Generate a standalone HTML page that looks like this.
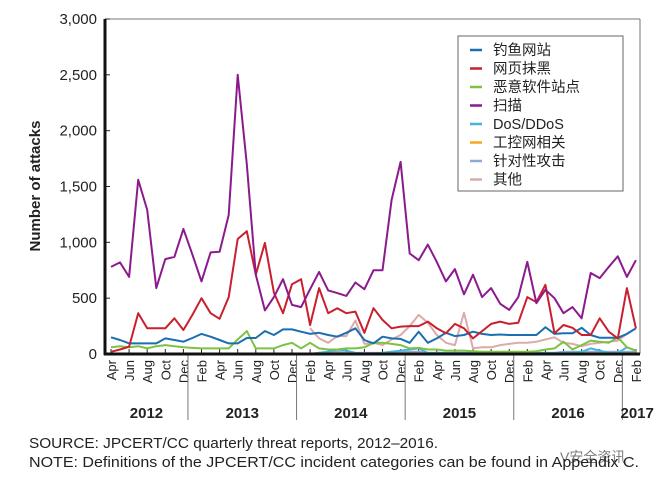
<!DOCTYPE html>
<html><head><meta charset="utf-8">
<style>
body{margin:0;background:#fff;width:662px;height:485px;overflow:hidden;font-family:"Liberation Sans","Noto Sans CJK SC",sans-serif;}
svg text{font-family:"Liberation Sans","Noto Sans CJK SC",sans-serif;fill:#222;}
</style></head>
<body>
<svg id="chart" width="662" height="485" xmlns="http://www.w3.org/2000/svg"></svg>
<script>
const monthLabels=["Apr","Jun","Aug","Oct","Dec","Feb","Apr","Jun","Aug","Oct","Dec","Feb","Apr","Jun","Aug","Oct","Dec","Feb","Apr","Jun","Aug","Oct","Dec","Feb","Apr","Jun","Aug","Oct","Dec","Feb"];
const yearLabels=["2012","2013","2014","2015","2016","2017"];
const yTicks=[0,500,1000,1500,2000,2500,3000];
const phishing=[150,125,95,95,95,95,140,125,110,143,180,155,125,95,95,143,143,205,170,220,220,200,180,190,170,155,190,230,125,95,155,140,135,100,200,100,140,190,160,170,200,180,170,175,170,170,170,170,240,180,185,185,235,170,145,145,145,180,230];
const defacement=[20,40,65,365,230,230,230,320,215,350,500,365,315,510,1030,1100,710,995,550,365,625,670,260,590,365,410,365,380,190,410,305,230,245,250,250,290,230,185,270,230,140,205,270,290,270,280,510,465,620,185,260,235,170,170,320,200,140,590,230];
const malware=[60,70,60,70,50,70,80,70,60,55,50,50,50,50,130,205,50,50,50,80,100,50,100,50,40,40,50,50,60,100,100,90,80,50,55,40,40,30,30,30,25,20,20,20,20,20,20,25,40,50,110,40,80,120,110,100,150,60,30];
const scan=[780,820,690,1560,1290,590,850,870,1120,890,650,910,915,1245,2500,1700,710,390,510,670,440,420,580,735,570,545,520,640,580,750,750,1380,1720,900,840,980,825,650,760,535,710,510,590,450,395,510,825,455,575,500,365,420,320,725,680,780,875,690,840];
const dos=[0,0,0,0,0,0,0,0,0,0,0,0,0,0,0,0,0,0,0,0,0,0,0,10,20,40,30,10,5,5,10,20,30,40,50,10,10,10,10,10,10,10,10,10,10,10,10,10,10,10,10,10,20,50,30,10,10,60,30];
const ics=[0,0,0,0,0,0,0,0,0,0,0,0,0,0,0,0,0,0,0,0,0,0,5,5,5,5,5,5,5,5,5,5,5,5,5,5,5,5,5,5,5,5,5,5,5,5,5,5,5,5,5,5,5,5,5,5,5,5,5];
const targeted=[0,0,0,0,0,0,0,0,0,0,0,0,0,0,0,0,0,0,0,0,0,0,0,10,20,20,10,10,10,10,10,20,20,20,20,10,10,10,10,10,10,10,10,10,10,10,10,10,10,10,20,20,20,20,20,20,20,20,20];
const other=[null,null,null,null,null,null,null,null,null,null,null,null,null,null,null,null,null,null,null,null,null,null,230,140,100,160,160,300,90,100,80,130,170,250,350,280,170,100,80,370,50,60,60,80,90,100,100,110,130,150,100,90,70,90,100,110,120,180,230];
const seriesNames=["钓鱼网站","网页抹黑","恶意软件站点","扫描","DoS/DDoS","工控网相关","针对性攻击","其他"];
const seriesColors=["#1a6fb0","#c8202e","#7dc242","#8b1a8e","#4ab3d8","#f5a623","#8aaad8","#ddaaaa"];
const seriesData=[phishing,defacement,malware,scan,dos,ics,targeted,other];
const drawOrder=[7,6,5,4,2,0,1,3];

const NS="http://www.w3.org/2000/svg";
const svg=document.getElementById('chart');
const L=105,R=640,T=19,B=354;
const x0=111,dx=9.05;
const xs=i=>x0+i*dx;
const ys=v=>B-(v/3000)*(B-T);
function mk(tag,attrs){const e=document.createElementNS(NS,tag);for(const k in attrs)e.setAttribute(k,attrs[k]);svg.appendChild(e);return e;}

let e=mk('line',{x1:L,y1:T,x2:R,y2:T,stroke:'#777','stroke-width':1});


e=mk('line',{x1:R,y1:T,x2:R,y2:B,stroke:'#777','stroke-width':1});



yTicks.forEach(v=>{
  const t=mk('text',{x:97,y:ys(v)+5,'text-anchor':'end','font-size':15});
  t.textContent=v.toLocaleString('en-US');
  
  
  const tk=mk('line',{x1:L,y1:ys(v),x2:L+5,y2:ys(v),stroke:'#222','stroke-width':1});
  
  
});
e=mk('text',{x:40,y:186,'text-anchor':'middle','font-size':15,'font-weight':'bold',transform:'rotate(-90 40 186)'});
e.textContent='Number of attacks';



monthLabels.forEach((m,k)=>{
  const x=xs(k*2);
  const tk=mk('line',{x1:x,y1:B-5,x2:x,y2:B,stroke:'#222','stroke-width':1});
  
  
  const t=mk('text',{x:x+5,y:B+6,'text-anchor':'end','font-size':13,transform:`rotate(-90 ${x+5} ${B+6})`});
  t.textContent=m;
  
  
});
yearLabels.forEach((yr,k)=>{
  const divX=xs(9+12*k)-4.5;
  if(k<5){
    const d=mk('line',{x1:divX,y1:B,x2:divX,y2:420,stroke:'#777','stroke-width':1});
    
    
  }
  const start=k===0?L:xs(9+12*(k-1))-4.5;
  const end=k===5?R+12:divX;
  const t=mk('text',{x:(start+end)/2,y:418,'text-anchor':'middle','font-size':15,'font-weight':'bold'});
  t.textContent=yr;
  
  
});

drawOrder.forEach(s=>{
  let d='',pen=false;
  seriesData[s].forEach((v,i)=>{
    if(v===null){pen=false;return;}
    d+=(pen?'L':'M')+xs(i).toFixed(1)+' '+ys(v).toFixed(1)+' ';pen=true;
  });
  const p=mk('path',{d:d,fill:'none',stroke:seriesColors[s],'stroke-width':2,'stroke-linejoin':'round'});
  
  
});

e=mk('line',{x1:L,y1:T,x2:L,y2:B+1,stroke:'#111','stroke-width':3});


e=mk('line',{x1:L-1,y1:B,x2:R,y2:B,stroke:'#111','stroke-width':3});



const lg=mk('rect',{x:458,y:36,width:165,height:155,fill:'#fff',stroke:'#666','stroke-width':1});


seriesNames.forEach((n,k)=>{
  const y=50+k*18.5;
  const ln=mk('line',{x1:470,y1:y,x2:482,y2:y,stroke:seriesColors[k],'stroke-width':2.5});
  
  
  const t=mk('text',{x:493,y:y+5,'font-size':14.5});
  t.textContent=n;
  
  
});

e=mk('text',{x:29,y:448,'font-size':15,textLength:409,lengthAdjust:'spacingAndGlyphs'});
e.textContent='SOURCE: JPCERT/CC quarterly threat reports, 2012–2016.';


e=mk('text',{x:29,y:467,'font-size':15,textLength:610,lengthAdjust:'spacingAndGlyphs'});
e.textContent='NOTE: Definitions of the JPCERT/CC incident categories can be found in Appendix C.';


e=mk('text',{x:560,y:462,'font-size':14,fill:'#aaa',opacity:0.6});
e.textContent='V安全资讯';


</script>
</body></html>
